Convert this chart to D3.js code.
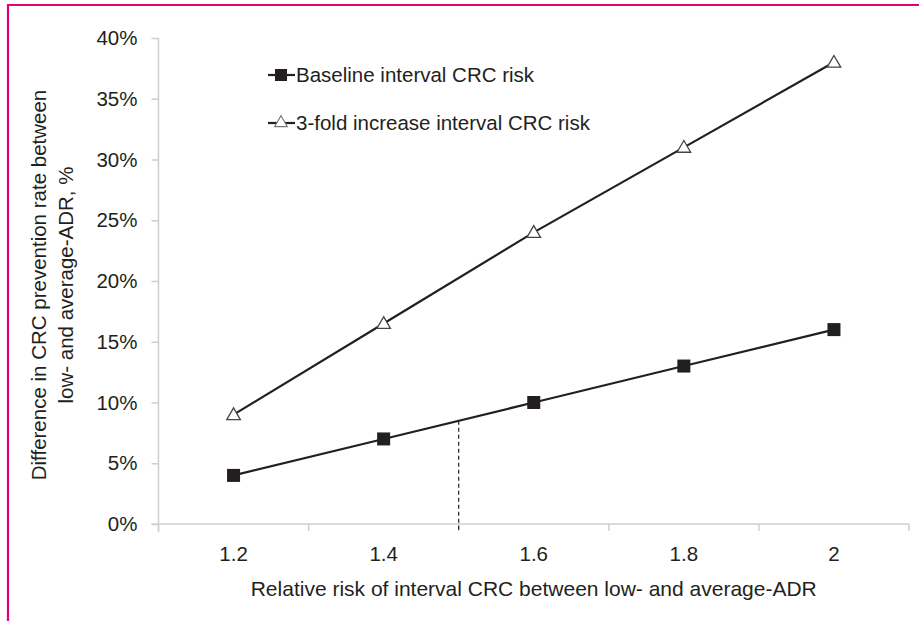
<!DOCTYPE html>
<html><head><meta charset="utf-8">
<script src="https://cdn.jsdelivr.net/npm/d3@7"></script>
<style>body{margin:0;background:#fff;} svg{display:block;font-family:"Liberation Sans",Arial,sans-serif;}</style>
</head><body>
<svg id="c" width="919" height="621"></svg>
<script>
const categories = ["1.2", "1.4", "1.6", "1.8", "2"];
const baseline = [4, 7, 10, 13, 16];
const threefold = [9, 16.5, 24, 31, 38];
const yTicks = [0, 5, 10, 15, 20, 25, 30, 35, 40];
const refX = 1.5, refY = 8.5;
const seriesNames = ["Baseline interval CRC risk", "3-fold increase interval CRC risk"];

const svg = d3.select("#c");
const ink = "#231f20";
const axisCol = "#cfcfcf";
const fs = "20.5px";
// border
svg.append("line").attr("x1", 8).attr("x2", 8).attr("y1", 4).attr("y2", 621).attr("stroke", "#e0007a").attr("stroke-width", 2.2);
svg.append("line").attr("x1", 7).attr("x2", 919).attr("y1", 5).attr("y2", 5).attr("stroke", "#e0007a").attr("stroke-width", 2.2);

const L = 158.5, R = 909, T = 38, B = 524;
const x = d3.scaleBand().domain(categories).range([L, R]);
const y = d3.scaleLinear().domain([0, 40]).range([B, T]);
const cx = c => x(c) + x.bandwidth() / 2;
const xNum = d3.scaleLinear().domain([1.2, 2]).range([cx("1.2"), cx("2")]);

// y axis
const ya = svg.append("g").attr("transform", `translate(${L},0)`)
  .call(d3.axisLeft(y).tickValues(yTicks).tickFormat(d => d + "%").tickSize(7).tickPadding(14));
ya.select(".domain").attr("stroke", axisCol).attr("stroke-width", 1.5).attr("d", `M0,${T}V${B+8}`);
ya.selectAll(".tick line").attr("stroke", axisCol).attr("stroke-width", 1.5);
ya.selectAll(".tick text").attr("fill", ink).style("font-size", fs);

// x axis
const xa = svg.append("g").attr("transform", `translate(0,${B})`);
xa.append("line").attr("x1", L - 7).attr("x2", R).attr("stroke", axisCol).attr("stroke-width", 1.5);
const bounds = categories.map(c => x(c)).concat([R]);
xa.selectAll("line.t").data(bounds).join("line").attr("class", "t")
  .attr("x1", d => d).attr("x2", d => d).attr("y1", 0).attr("y2", 7).attr("stroke", axisCol).attr("stroke-width", 1.5);
xa.selectAll("text").data(categories).join("text")
  .attr("x", d => cx(d)).attr("y", 37).attr("text-anchor", "middle").attr("fill", ink).style("font-size", fs).text(d => d);

// reference dashed line
svg.append("line").attr("x1", xNum(refX)).attr("x2", xNum(refX)).attr("y1", y(refY)).attr("y2", B + 8)
  .attr("stroke", ink).attr("stroke-width", 1.2).attr("stroke-dasharray", "4,3");

// series
const line = d3.line().x((d, i) => cx(categories[i])).y(d => y(d));
svg.append("path").datum(baseline).attr("d", line).attr("fill", "none").attr("stroke", ink).attr("stroke-width", 2.2);
svg.append("path").datum(threefold).attr("d", line).attr("fill", "none").attr("stroke", ink).attr("stroke-width", 2.2);

const sq = 13;
svg.selectAll("rect.m").data(baseline).join("rect").attr("class", "m")
  .attr("x", (d, i) => cx(categories[i]) - sq / 2).attr("y", d => y(d) - sq / 2)
  .attr("width", sq).attr("height", sq).attr("fill", ink);
const tri = d3.symbol().type(d3.symbolTriangle).size(80);
svg.selectAll("path.t").data(threefold).join("path").attr("class", "t")
  .attr("transform", (d, i) => `translate(${cx(categories[i])},${y(d) + 1})`)
  .attr("d", tri).attr("fill", "#fff").attr("stroke", "#444").attr("stroke-width", 1.3);

// legend
const lg = svg.append("g");
[0, 1].forEach(k => {
  const ly = k === 0 ? 75 : 123;
  lg.append("line").attr("x1", 268).attr("x2", 295).attr("y1", ly).attr("y2", ly).attr("stroke", ink).attr("stroke-width", 2.2);
  if (k === 0) lg.append("rect").attr("x", 275).attr("y", ly - 6).attr("width", 12).attr("height", 12).attr("fill", ink);
  else lg.append("path").attr("transform", `translate(281,${ly})`).attr("d", d3.symbol().type(d3.symbolTriangle).size(70)).attr("fill", "#fff").attr("stroke", "#777").attr("stroke-width", 1.1);
  lg.append("text").attr("x", 296).attr("y", ly + 7).attr("fill", ink).style("font-size", fs).text(seriesNames[k]);
});

// axis titles
const yt = svg.append("text").attr("transform", `translate(46,285) rotate(-90)`).attr("text-anchor", "middle").attr("fill", ink).style("font-size", fs);
yt.append("tspan").attr("x", 0).attr("y", 0).text("Difference in CRC prevention rate between");
yt.append("tspan").attr("x", 0).attr("y", 27).text("low- and average-ADR, %");
svg.append("text").attr("x", cx("1.6")).attr("y", 596).attr("text-anchor", "middle").attr("fill", ink).style("font-size", "21px")
  .text("Relative risk of interval CRC between low- and average-ADR");
</script>
</body></html>
